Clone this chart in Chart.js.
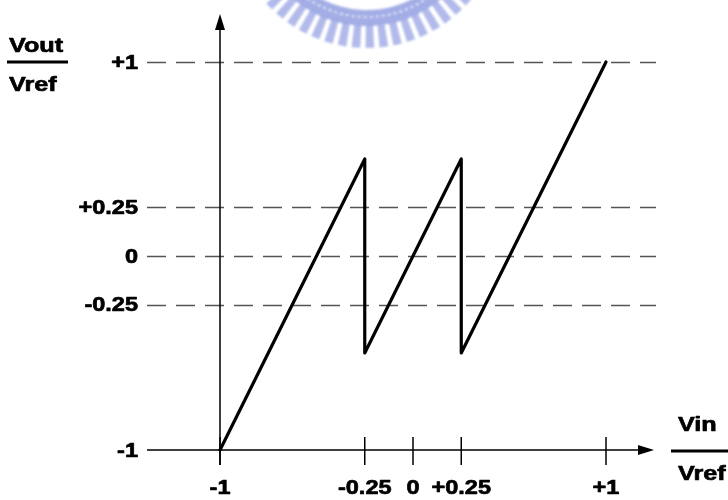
<!DOCTYPE html>
<html>
<head>
<meta charset="utf-8">
<script src="https://cdn.jsdelivr.net/npm/chart.js@4/dist/chart.umd.min.js"></script>
<style>
  html, body { margin: 0; padding: 0; background: #fff; }
  #wrap { width: 728px; height: 500px; position: relative; }
</style>
</head>
<body>
<div id="wrap"><canvas id="c" width="728" height="500"></canvas></div>
<script>
// Transfer curve of a 1.5-bit pipeline stage: Vout/Vref versus Vin/Vref
const vinValues = [-1, -0.25, -0.25, 0.25, 0.25, 1];
const voutValues = [-1, 0.5, -0.5, 0.5, -0.5, 1];

// Horizontal reference levels (dashed) and vertical axis tick labels
const dashedLevels = [1, 0.25, 0, -0.25];
const yTickValues = [1, 0.25, 0, -0.25, -1];
const yTickLabels = ['+1', '+0.25', '0', '-0.25', '-1'];

// Horizontal axis ticks
const xTickValues = [-1, -0.25, 0, 0.25, 1];
const xTickLabels = ['-1', '-0.25', '0', '+0.25', '+1'];

// Axis titles (drawn as fractions)
const yTitle = ['Vout', 'Vref'];
const xTitle = ['Vin', 'Vref'];

const FONT = 'bold 21px "Liberation Sans", Arial, sans-serif';

function drawText(ctx, text, x, y, align, stretch) {
  ctx.save();
  ctx.translate(x, y);
  ctx.scale(stretch || 1.12, 1);
  ctx.font = FONT;
  ctx.textAlign = align;
  ctx.textBaseline = 'middle';
  ctx.fillStyle = '#000';
  ctx.strokeStyle = '#000';
  ctx.lineWidth = 0.7;
  ctx.lineJoin = 'round';
  ctx.fillText(text, 0, 0);
  ctx.strokeText(text, 0, 0);
  ctx.restore();
}

// Faded gear-shaped emblem at the top edge
const emblem = {
  id: 'emblem',
  beforeDraw(chart) {
    const ctx = chart.ctx;
    const cx = 367, cy = -88, R = 136;
    ctx.save();
    ctx.filter = 'blur(0.9px)';
    ctx.fillStyle = 'rgba(125,140,220,0.7)';
    // ring band
    ctx.beginPath();
    ctx.arc(cx, cy, R - 22, 0.04 * Math.PI, 0.96 * Math.PI);
    ctx.arc(cx, cy, R - 38, 0.96 * Math.PI, 0.04 * Math.PI, true);
    ctx.closePath();
    ctx.fill();
    // teeth
    const step = 14 / R;
    ctx.fillStyle = 'rgba(125,140,220,0.6)';
    for (let a = 0.1 * Math.PI; a < 0.92 * Math.PI; a += step) {
      const hw = 4.3 / R;
      ctx.beginPath();
      ctx.moveTo(cx + (R - 23) * Math.cos(a - hw), cy + (R - 23) * Math.sin(a - hw));
      ctx.lineTo(cx + R * Math.cos(a - hw), cy + R * Math.sin(a - hw));
      ctx.lineTo(cx + R * Math.cos(a + hw), cy + R * Math.sin(a + hw));
      ctx.lineTo(cx + (R - 23) * Math.cos(a + hw), cy + (R - 23) * Math.sin(a + hw));
      ctx.closePath();
      ctx.fill();
    }
    // light inner dotted arc
    ctx.strokeStyle = 'rgba(255,255,255,0.85)';
    ctx.lineWidth = 1.5;
    ctx.setLineDash([3, 3]);
    ctx.beginPath();
    ctx.arc(cx, cy, R - 31, 0.1 * Math.PI, 0.9 * Math.PI);
    ctx.stroke();
    ctx.restore();
  }
};

// Axes, arrows, dashed levels, ticks and labels
const axesDecor = {
  id: 'axesDecor',
  beforeDatasetsDraw(chart) {
    const ctx = chart.ctx;
    const xs = chart.scales.x, ys = chart.scales.y;
    const x0 = xs.getPixelForValue(-1);
    const y0 = ys.getPixelForValue(-1);

    ctx.save();
    // dashed reference levels
    ctx.strokeStyle = '#555';
    ctx.lineWidth = 1.3;
    ctx.setLineDash([19, 10]);
    dashedLevels.forEach(v => {
      const y = Math.round(ys.getPixelForValue(v)) + 0.5;
      ctx.beginPath();
      ctx.moveTo(147, y);
      ctx.lineTo(656, y);
      ctx.stroke();
    });
    ctx.setLineDash([]);

    // axes
    ctx.strokeStyle = '#000';
    ctx.fillStyle = '#000';
    ctx.lineWidth = 1.5;
    ctx.beginPath();
    ctx.moveTo(147, y0);
    ctx.lineTo(642, y0);
    ctx.moveTo(x0, y0 + 15);
    ctx.lineTo(x0, 28);
    ctx.stroke();
    // arrow heads
    ctx.beginPath();
    ctx.moveTo(654, y0);
    ctx.lineTo(638, y0 - 5);
    ctx.lineTo(638, y0 + 5);
    ctx.closePath();
    ctx.fill();
    ctx.beginPath();
    ctx.moveTo(x0, 14);
    ctx.lineTo(x0 - 5, 30);
    ctx.lineTo(x0 + 5, 30);
    ctx.closePath();
    ctx.fill();

    // x ticks
    xTickValues.forEach((v, i) => {
      const x = xs.getPixelForValue(v);
      ctx.beginPath();
      ctx.moveTo(x, y0 - 13);
      ctx.lineTo(x, y0 + 15);
      ctx.stroke();
      drawText(ctx, xTickLabels[i], x, 488, 'center');
    });

    // y tick labels
    yTickValues.forEach((v, i) => {
      drawText(ctx, yTickLabels[i], 138, ys.getPixelForValue(v) + 1, 'right');
    });

    // axis titles as fractions
    const yTop = ys.getPixelForValue(1);
    ctx.lineWidth = 3;
    ctx.beginPath();
    ctx.moveTo(7, yTop);
    ctx.lineTo(68, yTop);
    ctx.moveTo(671, y0 + 1);
    ctx.lineTo(728, y0 + 1);
    ctx.stroke();
    drawText(ctx, yTitle[0], 9, yTop - 16, 'left', 1.2);
    drawText(ctx, yTitle[1], 9, yTop + 23, 'left', 1.2);
    drawText(ctx, xTitle[0], 678, y0 - 25, 'left', 1.2);
    drawText(ctx, xTitle[1], 678, y0 + 24, 'left', 1.2);
    ctx.restore();
  }
};

new Chart(document.getElementById('c'), {
  type: 'scatter',
  data: {
    datasets: [{
      data: vinValues.map((v, i) => ({ x: v, y: voutValues[i] })),
      showLine: true,
      borderColor: '#000',
      borderWidth: 3.2,
      borderCapStyle: 'round',
      borderJoinStyle: 'round',
      pointRadius: 0,
      tension: 0,
      fill: false
    }]
  },
  options: {
    responsive: false,
    animation: false,
    layout: { padding: 0 },
    plugins: { legend: { display: false }, tooltip: { enabled: false } },
    scales: {
      x: { type: 'linear', display: false, min: -1 - 220 / 193, max: -1 - 220 / 193 + 728 / 193 },
      y: { type: 'linear', display: false, max: 1 + 62 / 194, min: 1 + 62 / 194 - 500 / 194 }
    }
  },
  plugins: [emblem, axesDecor]
});
</script>
</body>
</html>
